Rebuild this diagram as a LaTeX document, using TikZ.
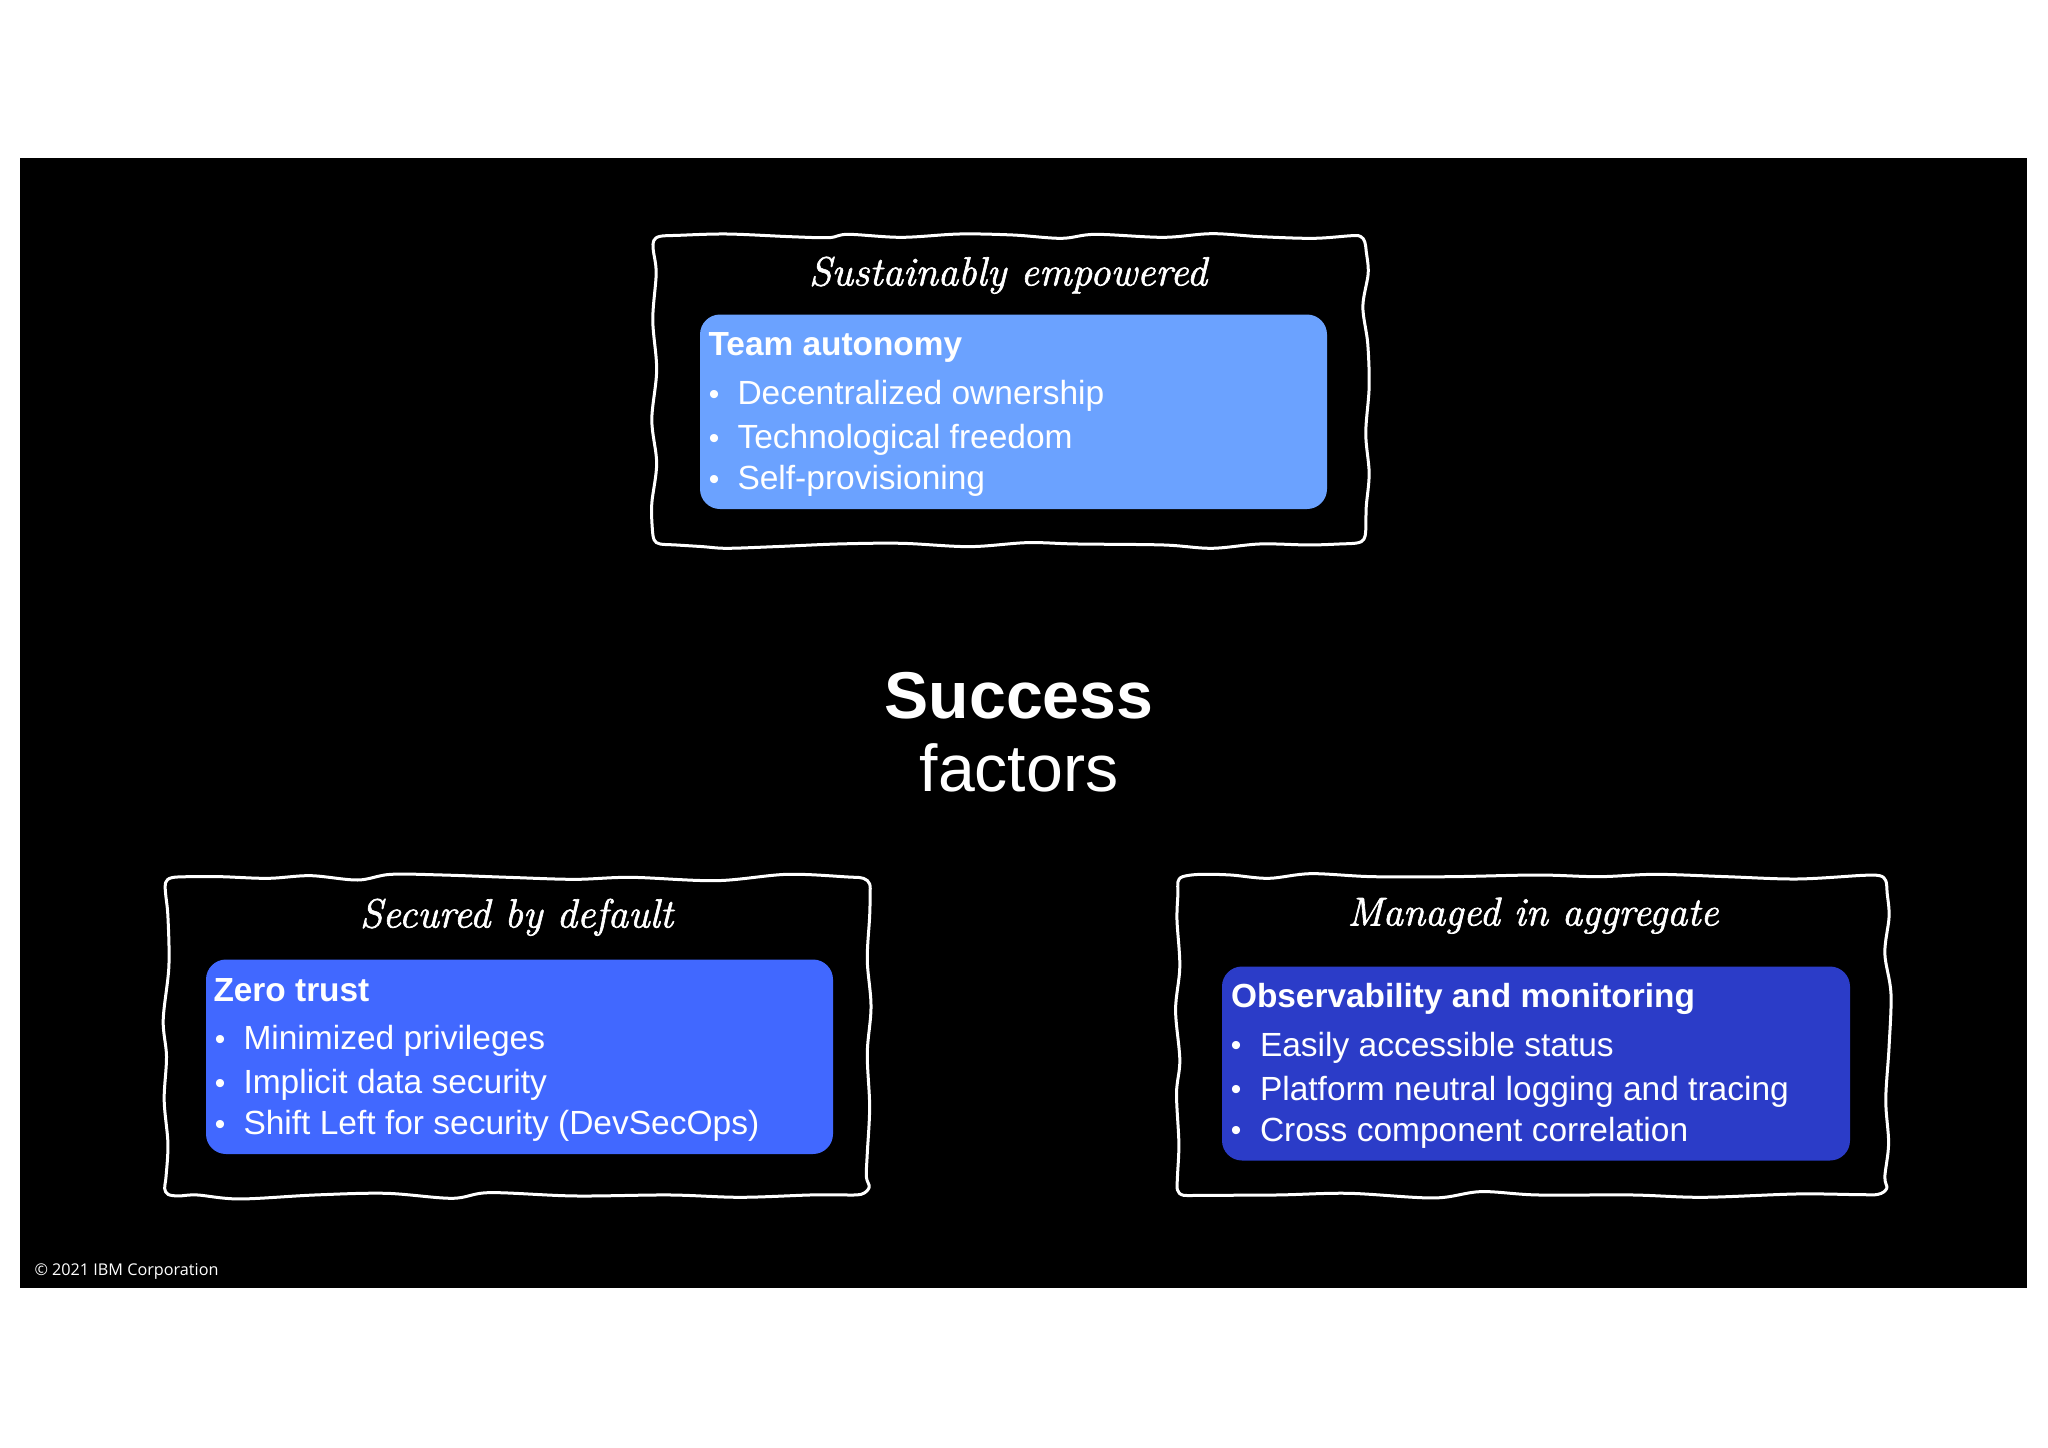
\documentclass[tikz,border=0pt]{standalone}
\usepackage{fontspec}
\usepackage{graphicx}
\setmainfont{Liberation Sans}
\newfontfamily\plexlike{Open Sans}
\newfontfamily\handfont[FakeBold=1.6]{Latin Modern Roman}
\definecolor{panel}{HTML}{000000}
\definecolor{boxlight}{HTML}{6BA2FF}
\definecolor{boxmid}{HTML}{4168FF}
\definecolor{boxdark}{HTML}{2B3CC8}
\tikzset{
  every node/.style={inner sep=0pt,outer sep=0pt,text=white},
  sketchframe/.style={draw=white,line width=3pt,line join=round},
  card/.style={rounded corners=20pt},
  cardhead/.style={anchor=base west,font=\fontsize{33.4}{36}\selectfont\bfseries},
  carditem/.style={anchor=base west,font=\fontsize{33.5}{36}\selectfont},
  cardbullet/.style={anchor=base,font=\fontsize{30}{36}\selectfont},
  handtitle/.style={anchor=base,font=\fontsize{44}{48}\selectfont\handfont\itshape},
  bigtitle/.style={anchor=base,font=\fontsize{66.2}{70}\selectfont},
}
\begin{document}
\begin{tikzpicture}[x=1pt,y=-1pt]
\useasboundingbox (0,0) rectangle (2048,1448);
\fill[white] (0,0) rectangle (2048,1448);
\fill[panel] (19.5,158) rectangle (2027,1287.5);
% top frame
\begin{scope}[shift={(630,220)},x=0.4847pt,y=-0.3333pt]
\draw[sketchframe] plot[smooth cycle,tension=0.55] coordinates {
(48,90)(49,62)(62,49)(100,46)(200,42)(330,50)(410,53)(450,43)(560,52)(680,42)(790,45)(890,55)(960,43)(1100,52)(1200,41)(1300,50)(1410,55)(1490,47)(1508,50)(1516,66)(1519,95)
(1523,160)(1512,260)(1522,370)(1525,500)(1518,640)(1525,760)(1519,860)(1518,930)(1514,958)(1500,969)(1465,972)
(1400,975)(1300,972)(1200,985)(1100,975)(920,972)(820,968)(700,980)(560,970)(430,972)(300,980)(200,985)(150,980)(95,975)(62,972)(50,960)(46,925)
(45,850)(55,730)(45,600)(55,450)(47,300)(54,160)};
\end{scope}
% left frame
\begin{scope}[shift={(150,860)},x=0.4719pt,y=-0.3333pt]
\draw[sketchframe] plot[smooth cycle,tension=0.55] coordinates {
(33,100)(33,68)(46,53)(85,50)(150,50)(250,55)(340,47)(440,60)(510,43)(620,45)(760,52)(900,58)(1020,52)(1200,62)(1350,43)(1480,51)(1512,55)(1525,72)(1526,105)
(1525,170)(1520,300)(1528,440)(1520,580)(1525,740)(1520,880)(1518,950)(1524,982)(1507,1003)(1465,1005)
(1400,1005)(1250,1012)(1100,1005)(900,1008)(720,998)(640,1015)(500,1000)(350,1005)(190,1017)(100,1005)(60,1008)(38,1003)(31,985)(34,950)
(38,850)(30,720)(35,590)(28,480)(40,320)(38,170)};
\end{scope}
% right frame
\begin{scope}[shift={(1160,860)},x=0.4719pt,y=-0.3333pt]
\draw[sketchframe] plot[smooth cycle,tension=0.55] coordinates {
(38,100)(38,66)(48,50)(85,43)(150,45)(230,55)(320,41)(450,50)(620,50)(800,45)(930,50)(1050,43)(1200,50)(1350,57)(1490,46)(1525,47)(1538,62)(1541,100)
(1545,170)(1536,280)(1549,400)(1545,560)(1538,720)(1544,850)(1536,950)(1540,985)(1522,1003)(1480,1004)
(1350,1002)(1150,1012)(1000,1005)(800,1005)(680,995)(580,1014)(400,1000)(250,1005)(90,1006)(50,1006)(37,990)(37,950)
(40,850)(35,700)(42,600)(33,450)(42,320)(36,180)};
\end{scope}
% cards
\fill[boxlight,card] (700,314.5) rectangle (1327,509);
\fill[boxmid,card] (206,959.5) rectangle (833,1154);
\fill[boxdark,card] (1222,966.5) rectangle (1850,1160.5);
% hand titles
\node[handtitle] (t1) at (1008,285.5) {\resizebox{398pt}{!}{Sustainably empowered}};
\node[handtitle] (t2) at (516.5,927.5) {\resizebox{313pt}{!}{Secured by default}};
\node[handtitle] (t3) at (1533,925.5) {\resizebox{371pt}{!}{Managed in aggregate}};
% top card text
\node[cardhead] (h1) at (708.5,355.5) {Team autonomy};
\node[cardbullet] (b11) at (714,404) {•};
\node[carditem] (i11) at (737.5,404.5) {Decentralized ownership};
\node[cardbullet] (b12) at (714,448) {•};
\node[carditem] (i12) at (737.5,448.5) {Technological freedom};
\node[cardbullet] (b13) at (714,489) {•};
\node[carditem] (i13) at (737.5,489.5) {Self-provisioning};
% left card text
\node[cardhead] (h2) at (213.5,1001) {Zero trust};
\node[cardbullet] (b21) at (220,1049) {•};
\node[carditem] (i21) at (243.5,1049.5) {Minimized privileges};
\node[cardbullet] (b22) at (220,1093) {•};
\node[carditem] (i22) at (243.5,1093.5) {Implicit data security};
\node[cardbullet] (b23) at (220,1134) {•};
\node[carditem] (i23) at (243.5,1134.5) {Shift Left for security (DevSecOps)};
% right card text
\node[cardhead] (h3) at (1231,1007.5) {Observability and monitoring};
\node[cardbullet] (b31) at (1236,1055.5) {•};
\node[carditem] (i31) at (1260,1056) {Easily accessible status};
\node[cardbullet] (b32) at (1236,1099.5) {•};
\node[carditem] (i32) at (1260,1100) {Platform neutral logging and tracing};
\node[cardbullet] (b33) at (1236,1140.5) {•};
\node[carditem] (i33) at (1260,1141) {Cross component correlation};
% centre title
\node[bigtitle,font=\fontsize{66.2}{70}\selectfont\bfseries] (s1) at (1019,718) {Success};
\node[bigtitle] (s2) at (1019,791) {factors};
% footer
\node[anchor=base west,font=\fontsize{16.2}{18}\selectfont\plexlike] (c) at (34.5,1275) {© 2021 IBM Corporation};
\end{tikzpicture}
\end{document}
